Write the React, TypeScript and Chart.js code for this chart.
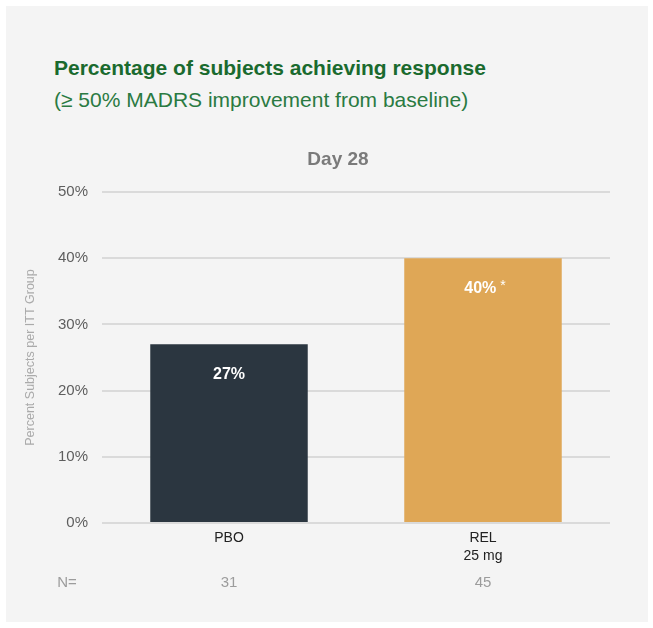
import React, { useEffect, useRef } from "react";
import { Chart, registerables } from "chart.js";

Chart.register(...registerables);

const categories: string[][] = [["PBO"], ["REL", "25 mg"]];
const responsePct: number[] = [27, 40];
const valueLabels: string[] = ["27%", "40%"];
const significance: string[] = ["", "*"];
const nValues: string[] = ["31", "45"];
const nLabel = "N=";
const barColors: string[] = ["#2b3640", "#dfa756"];
const chartTitle = "Percentage of subjects achieving response";
const chartSubtitle = "(≥ 50% MADRS improvement from baseline)";
const panelTitle = "Day 28";
const yAxisTitle = "Percent Subjects per ITT Group";

const W = 653;
const H = 628;
const FONT = "'Liberation Sans', Arial, Helvetica, sans-serif";

const annotationPlugin = {
  id: "annotations",
  afterDatasetsDraw(chart: any) {
    const { ctx } = chart;
    const meta = chart.getDatasetMeta(0);
    const xScale = chart.scales.x;
    ctx.save();
    // Panel title
    ctx.fillStyle = "#7a7a7a";
    ctx.font = `bold 19px ${FONT}`;
    ctx.textAlign = "center";
    ctx.textBaseline = "middle";
    ctx.fillText(panelTitle, 338, 160);

    // value labels inside bars
    meta.data.forEach((bar: any, i: number) => {
      ctx.fillStyle = "#ffffff";
      ctx.font = `bold 16px ${FONT}`;
      ctx.textBaseline = "middle";
      const label = valueLabels[i];
      const sig = significance[i];
      const y = bar.y + 30;
      if (sig) {
        const w = ctx.measureText(label).width;
        ctx.font = `14px ${FONT}`;
        const sw = ctx.measureText(" " + sig).width;
        const start = bar.x + 2 - (w + sw) / 2;
        ctx.font = `bold 16px ${FONT}`;
        ctx.textAlign = "left";
        ctx.fillText(label, start, y);
        ctx.font = `14px ${FONT}`;
        ctx.fillText(" " + sig, start + w, y - 2);
      } else {
        ctx.textAlign = "center";
        ctx.fillText(label, bar.x, y);
      }
    });

    // N row
    ctx.fillStyle = "#9c9c9c";
    ctx.font = `15px ${FONT}`;
    ctx.textAlign = "center";
    ctx.textBaseline = "middle";
    ctx.fillText(nLabel, 67, 583);
    nValues.forEach((n, i) => {
      ctx.fillText(n, xScale.getPixelForValue(i), 583);
    });
    ctx.restore();
  },
};

export default function App() {
  const canvasRef = useRef<HTMLCanvasElement | null>(null);

  useEffect(() => {
    if (!canvasRef.current) return;
    const chart = new Chart(canvasRef.current, {
      type: "bar",
      data: {
        labels: categories,
        datasets: [
          {
            data: responsePct,
            backgroundColor: barColors,
            borderWidth: 0,
            barPercentage: 0.62,
            categoryPercentage: 1,
          },
        ],
      },
      options: {
        responsive: false,
        animation: false,
        devicePixelRatio: 1,
        layout: { padding: { left: 10, right: 43, top: 192, bottom: 25 } },
        plugins: {
          legend: { display: false },
          tooltip: { enabled: false },
          title: { display: false },
        },
        scales: {
          x: {
            grid: { display: false, drawTicks: false },
            border: { display: false },
            ticks: {
              color: "#222222",
              padding: 6,
              font: { family: FONT, size: 14, lineHeight: 18 / 14 },
            },
            afterFit: (axis: any) => {
              axis.height = 80;
            },
          },
          y: {
            min: 0,
            max: 50,
            grid: { color: "#dadada", lineWidth: 2, drawTicks: false },
            border: { display: false },
            ticks: {
              stepSize: 10,
              padding: 14,
              color: "#5e5e5e",
              font: { family: FONT, size: 15 },
              callback: (v: any) => `${v}%`,
            },
            title: {
              display: true,
              text: yAxisTitle,
              color: "#aaaaaa",
              font: { family: FONT, size: 12.5 },
              padding: { top: 13, bottom: 0 },
            },
            afterFit: (axis: any) => {
              axis.width = 92;
            },
          },
        },
      },
      plugins: [annotationPlugin],
    });
    return () => chart.destroy();
  }, []);

  return (
    <div style={{ position: "absolute", left: 0, top: 0, width: W, height: H, background: "#ffffff" }}>
      <div
        style={{
          position: "absolute",
          left: 6,
          top: 6,
          width: 642,
          height: 616,
          background: "#f4f4f4",
        }}
      />
      <div
        style={{
          position: "absolute",
          left: 54,
          top: 55,
          fontFamily: FONT,
          fontWeight: "bold",
          fontSize: 21,
          color: "#1a6a2e",
          whiteSpace: "nowrap",
          lineHeight: "26px",
        }}
      >
        {chartTitle}
      </div>
      <div
        style={{
          position: "absolute",
          left: 54,
          top: 87,
          fontFamily: FONT,
          fontSize: 21,
          color: "#2a7a42",
          whiteSpace: "nowrap",
          lineHeight: "26px",
        }}
      >
        {chartSubtitle}
      </div>
      <canvas
        ref={canvasRef}
        width={W}
        height={H}
        style={{ position: "absolute", left: 0, top: 0, width: W, height: H }}
      />
    </div>
  );
}
